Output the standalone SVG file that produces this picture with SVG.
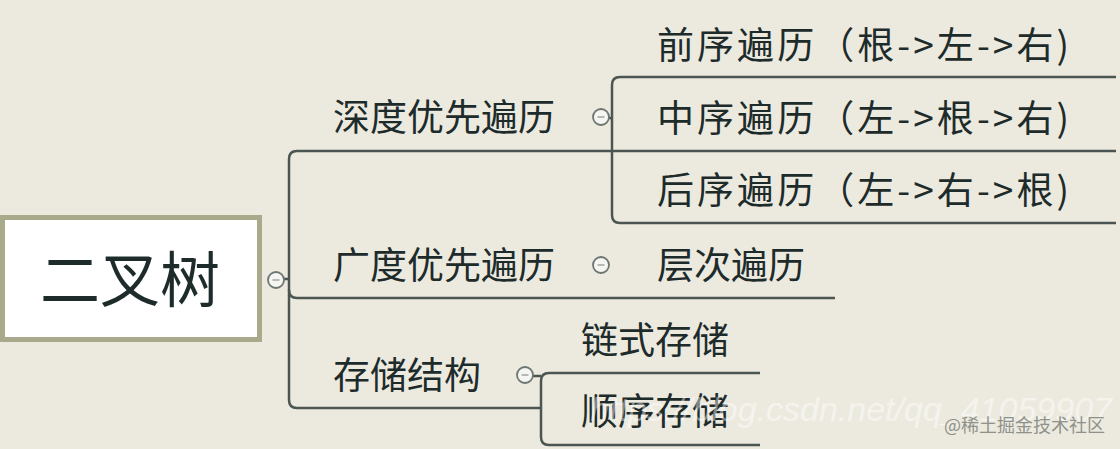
<svg xmlns="http://www.w3.org/2000/svg" width="1120" height="449" viewBox="0 0 1120 449">
<style>
.bg{fill:#eceadf}
.ln{fill:none;stroke:#4b5652;stroke-width:2.5;stroke-linejoin:round}
.t{font-family:"Microsoft YaHei","Noto Sans CJK SC",sans-serif;font-size:37px;fill:#1e2b2b}
.tog{fill:#f5f5f1;stroke:#6e7672;stroke-width:1.8}
.dash{stroke:#a7aca9;stroke-width:1.6}
</style>
<defs>
<g id="toggle"><circle class="tog" r="8"/><line class="dash" x1="-3.5" y1="0" x2="3.5" y2="0"/></g>
</defs>
<rect class="bg" width="1120" height="449"/>
<g id="connectors">
<line class="ln" x1="0" y1="279" x2="4" y2="279"/>
<line class="ln" x1="283" y1="279" x2="289" y2="279"/>
<path class="ln" d="M 1116 151 L 297 151 Q 289 151 289 159 L 289 400 Q 289 408 297 408 L 541 408"/>
<path class="ln" d="M 289 290 Q 289 298 297 298 L 835 298"/>
<path class="ln" d="M 1116 77 L 620 77 Q 612 77 612 85 L 612 215 Q 612 223 620 223 L 1116 223"/>
<line class="ln" x1="609" y1="118" x2="612" y2="118"/>
<path class="ln" d="M 760 373 L 549 373 Q 541 373 541 381 L 541 437 Q 541 445 549 445 L 760 445"/>
<line class="ln" x1="533" y1="376" x2="541" y2="376"/>
</g>
<g id="root">
<rect x="2.5" y="217.5" width="257" height="122" fill="#ffffff" stroke="#a9a98b" stroke-width="5"/>
<text x="130" y="302" text-anchor="middle" font-family="'Microsoft YaHei','Noto Sans CJK SC',sans-serif" font-size="60" fill="#1e2b2b">二叉树</text>
<use href="#toggle" x="276" y="280"/>
</g>
<g id="n-dfs">
<text class="t" x="333" y="131">深度优先遍历</text>
<use href="#toggle" x="601" y="117"/>
</g>
<g id="n-pre"><text class="t" x="657" y="59" textLength="412" lengthAdjust="spacing">前序遍历（根-&gt;左-&gt;右)</text></g>
<g id="n-in"><text class="t" x="657" y="132" textLength="412" lengthAdjust="spacing">中序遍历（左-&gt;根-&gt;右)</text></g>
<g id="n-post"><text class="t" x="657" y="204" textLength="412" lengthAdjust="spacing">后序遍历（左-&gt;右-&gt;根)</text></g>
<g id="n-bfs">
<text class="t" x="333" y="279">广度优先遍历</text>
<use href="#toggle" x="601" y="265"/>
</g>
<g id="n-level"><text class="t" x="657" y="279">层次遍历</text></g>
<g id="n-storage">
<text class="t" x="333" y="389">存储结构</text>
<use href="#toggle" x="525" y="375"/>
</g>
<g id="n-linked"><text class="t" x="581" y="354">链式存储</text></g>
<g id="n-seq"><text class="t" x="581" y="425">顺序存储</text></g>
<g id="watermark">
<text x="1112" y="421" text-anchor="end" font-family="'Liberation Sans',Arial,sans-serif" font-size="34" font-style="italic" fill="#ffffff" fill-opacity="0.45">https://blog.csdn.net/qq_41059907</text>
<text x="1105" y="432" text-anchor="end" font-family="'Noto Sans CJK SC',sans-serif" font-size="18" fill="#8f918c">@稀土掘金技术社区</text>
</g>
</svg>
